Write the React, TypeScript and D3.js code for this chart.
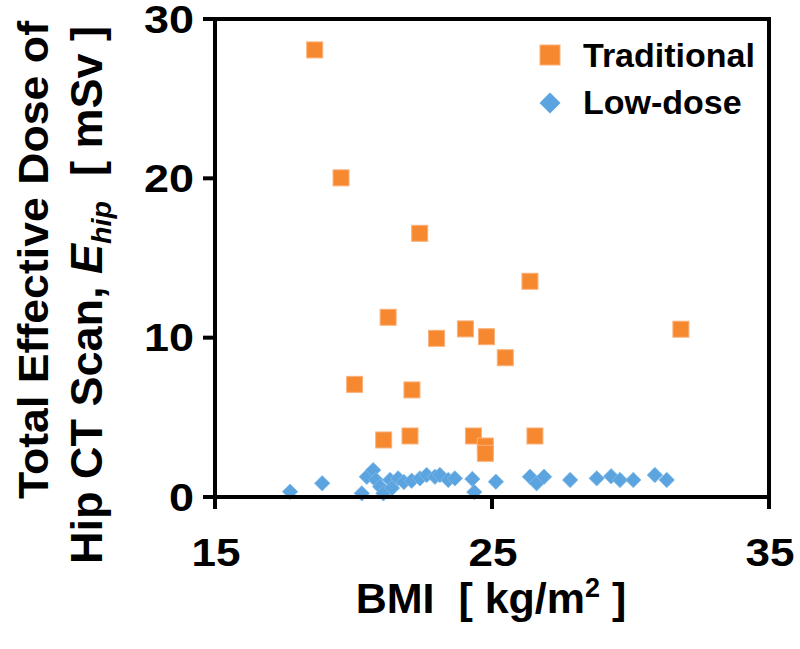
import * as d3 from "d3";

// Traditional CT: BMI vs effective dose (mSv)
const tradBmi = [18.6, 19.55, 22.39, 26.37, 21.25, 24.04, 24.8, 23.0, 31.82, 25.48, 20.04, 22.11, 21.09, 22.04, 24.33, 24.76, 24.76, 26.55];
const tradDose = [28.06, 20.03, 16.55, 13.54, 11.28, 10.55, 10.06, 9.96, 10.53, 8.74, 7.07, 6.72, 3.58, 3.83, 3.83, 3.2, 2.74, 3.83];

// Low-dose CT
const lowBmi = [17.71, 18.87, 20.3, 20.48, 20.71, 20.81, 20.96, 21.08, 21.32, 21.39, 21.61, 21.82, 22.1, 22.4, 22.64, 22.94, 23.12, 23.42, 23.66, 24.29, 24.36, 25.14, 26.37, 26.61, 26.88, 27.82, 28.78, 29.3, 29.62, 30.1, 30.88, 31.31];
const lowDose = [0.33, 0.86, 0.23, 1.27, 1.69, 1.07, 0.65, 0.23, 1.07, 0.56, 1.17, 0.94, 1.02, 1.17, 1.38, 1.27, 1.38, 1.07, 1.17, 1.13, 0.31, 0.96, 1.27, 0.86, 1.27, 1.07, 1.17, 1.3, 1.07, 1.07, 1.38, 1.07];

const xTicks = [15, 25, 35];
const yTicks = [0, 10, 20, 30];
const legendLabels = ["Traditional", "Low-dose"];

const font = "'Liberation Sans', Arial, sans-serif";
const orange = "#F6892F";
const orangeEdge = "#FAB07A";
const blue = "#5BA4DF";

export default function App() {
  const W = 800;
  const H = 649;
  const x = d3.scaleLinear().domain([15, 35]).range([215, 769]);
  const y = d3.scaleLinear().domain([0, 30]).range([497, 19]);
  const tick = 12;
  const sq = 16;
  const diamond = d3.symbol().type(d3.symbolSquare).size(118)();
  const legendDiamond = d3.symbol().type(d3.symbolSquare).size(220)();
  // tick labels in the source are a little wider than plain Arial Bold
  const labelWidth = (t: number) => String(t).length * 25;

  return (
    <svg
      width={W}
      height={H}
      style={{ position: "absolute", left: 0, top: 0, background: "#fff" }}
      fontFamily={font}
      fontWeight="bold"
    >
      {/* markers */}
      {tradBmi.map((b, i) => (
        <rect
          key={"t" + i}
          x={x(b) - sq / 2}
          y={y(tradDose[i]) - sq / 2}
          width={sq}
          height={sq}
          fill={orange}
          stroke={orangeEdge}
          strokeWidth={1}
        />
      ))}
      {lowBmi.map((b, i) => (
        <path
          key={"l" + i}
          d={diamond ?? ""}
          transform={`translate(${x(b)},${y(lowDose[i])}) rotate(45)`}
          fill={blue}
          stroke="#7db8e8"
          strokeWidth={0.8}
        />
      ))}

      {/* frame */}
      <rect
        x={x(15)}
        y={y(30)}
        width={x(35) - x(15)}
        height={y(0) - y(30)}
        fill="none"
        stroke="#000"
        strokeWidth={4}
      />
      {yTicks.map((t) => (
        <g key={"yt" + t}>
          <line x1={x(15) - tick} x2={x(15)} y1={y(t)} y2={y(t)} stroke="#000" strokeWidth={4} />
          <text
            x={x(15) - 21}
            y={y(t)}
            dy="0.36em"
            textAnchor="end"
            fontSize={38}
            textLength={labelWidth(t)}
            lengthAdjust="spacingAndGlyphs"
          >
            {t}
          </text>
        </g>
      ))}
      {xTicks.map((t) => (
        <g key={"xt" + t}>
          <line x1={x(t)} x2={x(t)} y1={y(0)} y2={y(0) + tick} stroke="#000" strokeWidth={4} />
          <text
            x={x(t) + 1}
            y={566}
            textAnchor="middle"
            fontSize={38}
            textLength={labelWidth(t) - 1}
            lengthAdjust="spacingAndGlyphs"
          >
            {t}
          </text>
        </g>
      ))}

      {/* x title */}
      <text x={491} y={613} textAnchor="middle" fontSize={43} style={{ whiteSpace: "pre" }}>
        {"BMI  [ kg/m"}
        <tspan fontSize={27} dy={-16}>2</tspan>
        <tspan dy={16}>{" ]"}</tspan>
      </text>

      {/* y title */}
      <text
        transform="translate(48,260) rotate(-90)"
        textAnchor="middle"
        fontSize={43}
        textLength={478}
        lengthAdjust="spacingAndGlyphs"
      >
        Total Effective Dose of
      </text>
      <text
        transform="translate(102,295) rotate(-90)"
        textAnchor="middle"
        fontSize={44}
        textLength={538}
        lengthAdjust="spacingAndGlyphs"
        style={{ whiteSpace: "pre" }}
      >
        {"Hip CT Scan, "}
        <tspan fontStyle="italic">E</tspan>
        <tspan fontStyle="italic" fontSize={28} dy={9}>hip</tspan>
        <tspan dy={-9}>{"  [ mSv ]"}</tspan>
      </text>

      {/* legend */}
      <rect x={550 - 10} y={55 - 10} width={20} height={20} fill={orange} stroke={orangeEdge} />
      <text x={583} y={67} fontSize={34}>
        {legendLabels[0]}
      </text>
      <path d={legendDiamond ?? ""} transform="translate(550,103) rotate(45)" fill={blue} />
      <text x={583} y={114} fontSize={34}>
        {legendLabels[1]}
      </text>
    </svg>
  );
}
